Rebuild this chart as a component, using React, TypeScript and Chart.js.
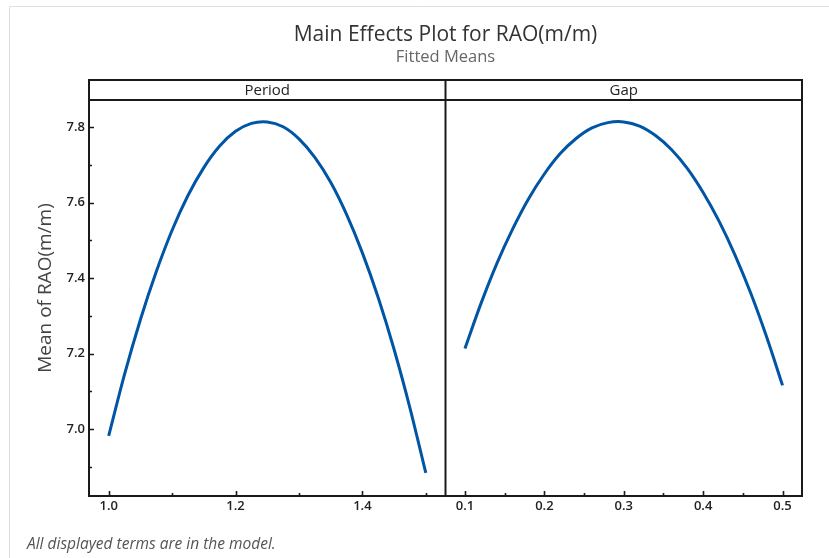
import { useEffect, useRef } from "react";
import { Chart, registerables } from "chart.js";

Chart.register(...registerables);

// ---------- data ----------
const periodLevels = [1.0, 1.025, 1.05, 1.075, 1.1, 1.125, 1.15, 1.175, 1.2, 1.225, 1.25, 1.275, 1.3, 1.325, 1.35, 1.375, 1.4, 1.425, 1.45, 1.475, 1.5];
const periodMeans = [6.982, 7.145, 7.29, 7.417, 7.527, 7.619, 7.693, 7.75, 7.789, 7.81, 7.814, 7.801, 7.769, 7.72, 7.654, 7.569, 7.467, 7.348, 7.211, 7.056, 6.884];

const gapLevels = [0.1, 0.12, 0.14, 0.16, 0.18, 0.2, 0.22, 0.24, 0.26, 0.28, 0.3, 0.32, 0.34, 0.36, 0.38, 0.4, 0.42, 0.44, 0.46, 0.48, 0.5];
const gapMeans = [7.214, 7.332, 7.438, 7.53, 7.61, 7.676, 7.73, 7.77, 7.798, 7.812, 7.814, 7.803, 7.778, 7.741, 7.691, 7.627, 7.551, 7.462, 7.36, 7.244, 7.116];

const periodMajorTicks = [1.0, 1.2, 1.4];
const periodMinorTicks = [1.1, 1.3, 1.5];
const gapMajorTicks = [0.1, 0.2, 0.3, 0.4, 0.5];
const gapMinorTicks = [0.15, 0.25, 0.35, 0.45];
const yMajorTicks = [7.0, 7.2, 7.4, 7.6, 7.8];
const yMinorTicks = [6.9, 7.1, 7.3, 7.5, 7.7];

const panelLabels = ["Period", "Gap"];
const titleText = "Main Effects Plot for RAO(m/m)";
const subtitleText = "Fitted Means";
const yTitleText = "Mean of RAO(m/m)";
const footnoteText = "All displayed terms are in the model.";

const FONT = '"Open Sans", "Noto Sans", sans-serif';
const LINE_COLOR = "#0055a5";
const FRAME_COLOR = "#1a1a1a";

const framePlugin = {
  id: "minitabFrame",
  afterDraw(chart: any) {
    const ctx = chart.ctx as CanvasRenderingContext2D;
    const a = chart.chartArea;
    const sx = chart.scales.x;
    const sx2 = chart.scales.x2;
    const sy = chart.scales.y;
    const W = chart.width;
    const H = chart.height;
    ctx.save();

    // light outer border
    ctx.strokeStyle = "#dedede";
    ctx.lineWidth = 1;
    ctx.beginPath();
    ctx.moveTo(9.5, H);
    ctx.lineTo(9.5, 6.5);
    ctx.lineTo(W, 6.5);
    ctx.stroke();

    const cx = (a.left + a.right) / 2;

    // titles
    ctx.fillStyle = "#333333";
    ctx.textAlign = "center";
    ctx.textBaseline = "middle";
    ctx.font = `500 21px ${FONT}`;
    ctx.fillText(titleText, cx, 35);
    ctx.fillStyle = "#666666";
    ctx.font = `16.5px ${FONT}`;
    ctx.fillText(subtitleText, cx, 57);

    // y title
    const stripTop = a.top - 20;
    ctx.save();
    ctx.translate(46, (stripTop + a.bottom) / 2);
    ctx.rotate(-Math.PI / 2);
    ctx.fillStyle = "#444444";
    ctx.font = `19px ${FONT}`;
    ctx.fillText(yTitleText, 0, 0);
    ctx.restore();

    // footnote
    ctx.fillStyle = "#555555";
    ctx.textAlign = "left";
    ctx.font = `italic 15.5px ${FONT}`;
    ctx.fillText(footnoteText, 27, 545);

    // frame
    ctx.strokeStyle = FRAME_COLOR;
    ctx.lineWidth = 2;
    ctx.strokeRect(a.left, stripTop, a.right - a.left, a.bottom - stripTop);
    ctx.beginPath();
    ctx.moveTo(a.left, a.top);
    ctx.lineTo(a.right, a.top);
    ctx.moveTo(sx.right, stripTop);
    ctx.lineTo(sx.right, a.bottom);
    ctx.stroke();

    // strip labels
    ctx.fillStyle = "#222222";
    ctx.textAlign = "center";
    ctx.font = `15px ${FONT}`;
    ctx.fillText(panelLabels[0], (sx.left + sx.right) / 2, stripTop + 10.5);
    ctx.fillText(panelLabels[1], (sx2.left + sx2.right) / 2, stripTop + 10.5);

    // inward tick marks
    ctx.lineWidth = 1.6;
    ctx.beginPath();
    const xTick = (scale: any, v: number, len: number) => {
      const p = Math.round(scale.getPixelForValue(v)) + 0.5;
      ctx.moveTo(p, a.bottom);
      ctx.lineTo(p, a.bottom - len);
    };
    periodMajorTicks.forEach((v) => xTick(sx, v, 5));
    periodMinorTicks.forEach((v) => xTick(sx, v, 3));
    gapMajorTicks.forEach((v) => xTick(sx2, v, 5));
    gapMinorTicks.forEach((v) => xTick(sx2, v, 3));
    const yTick = (v: number, len: number) => {
      const p = Math.round(sy.getPixelForValue(v)) + 0.5;
      ctx.moveTo(a.left, p);
      ctx.lineTo(a.left + len, p);
    };
    yMajorTicks.forEach((v) => yTick(v, 5));
    yMinorTicks.forEach((v) => yTick(v, 3));
    ctx.stroke();

    ctx.restore();
  },
};

const tickFont = { family: FONT, size: 13, weight: "600" as any };

export default function App() {
  const canvasRef = useRef<HTMLCanvasElement | null>(null);

  useEffect(() => {
    if (!canvasRef.current) return;
    const chart = new Chart(canvasRef.current, {
      type: "line",
      data: {
        datasets: [
          {
            label: "Period",
            data: periodLevels.map((x, i) => ({ x, y: periodMeans[i] })),
            xAxisID: "x",
            yAxisID: "y",
            borderColor: LINE_COLOR,
            borderWidth: 3,
            pointRadius: 0,
            tension: 0.3,
            fill: false,
          },
          {
            label: "Gap",
            data: gapLevels.map((x, i) => ({ x, y: gapMeans[i] })),
            xAxisID: "x2",
            yAxisID: "y",
            borderColor: LINE_COLOR,
            borderWidth: 3,
            pointRadius: 0,
            tension: 0.3,
            fill: false,
          },
        ],
      },
      options: {
        responsive: false,
        animation: false,
        layout: { padding: { left: 29, right: 27, top: 100, bottom: 32 } },
        plugins: {
          legend: { display: false },
          title: { display: false },
          tooltip: { enabled: false },
        },
        scales: {
          x: {
            type: "linear",
            position: "bottom",
            stack: "panels",
            min: 0.969,
            max: 1.531,
            grid: { display: false, drawTicks: false },
            border: { display: false },
            afterBuildTicks: (s: any) => {
              s.ticks = periodMajorTicks.map((v) => ({ value: v }));
            },
            afterFit: (s: any) => {
              s.height = 30;
            },
            ticks: {
              padding: 2,
              color: "#222222",
              font: tickFont,
              autoSkip: false,
              maxRotation: 0,
              callback: (v: any) => Number(v).toFixed(1),
            },
          },
          x2: {
            type: "linear",
            position: "bottom",
            stack: "panels",
            min: 0.0755,
            max: 0.5245,
            grid: { display: false, drawTicks: false },
            border: { display: false },
            afterBuildTicks: (s: any) => {
              s.ticks = gapMajorTicks.map((v) => ({ value: v }));
            },
            afterFit: (s: any) => {
              s.height = 30;
            },
            ticks: {
              padding: 2,
              color: "#222222",
              font: tickFont,
              autoSkip: false,
              maxRotation: 0,
              callback: (v: any) => Number(v).toFixed(1),
            },
          },
          y: {
            type: "linear",
            position: "left",
            min: 6.823,
            max: 7.872,
            grid: { display: false, drawTicks: false },
            border: { display: false },
            afterBuildTicks: (s: any) => {
              s.ticks = yMajorTicks.map((v) => ({ value: v }));
            },
            afterFit: (s: any) => {
              s.width = 60;
            },
            ticks: {
              padding: 4,
              color: "#222222",
              font: tickFont,
              autoSkip: false,
              callback: (v: any) => Number(v).toFixed(1),
            },
          },
        },
      } as any,
      plugins: [framePlugin],
    });
    return () => chart.destroy();
  }, []);

  return (
    <div style={{ position: "fixed", left: 0, top: 0, width: 829, height: 558, background: "#ffffff" }}>
      <canvas ref={canvasRef} width={829} height={558} style={{ display: "block" }} />
    </div>
  );
}
